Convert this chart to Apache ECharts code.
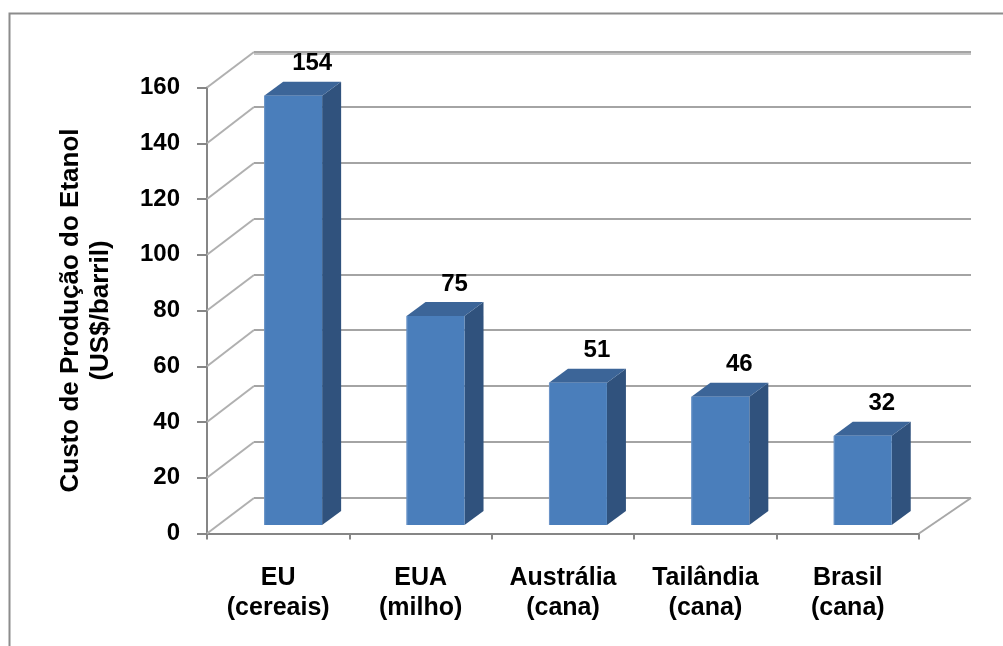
<!DOCTYPE html>
<html>
<head>
<meta charset="utf-8">
<script src="https://cdn.jsdelivr.net/npm/echarts@6/dist/echarts.min.js"></script>
<style>
  html, body { margin: 0; padding: 0; background: #fff; overflow: hidden; }
  #chart { width: 1003px; height: 646px; }
</style>
</head>
<body>
<div id="chart"></div>
<script>
// Ethanol production cost by producer (US$ per barrel)
const categories = ['EU\n(cereais)', 'EUA\n(milho)', 'Austrália\n(cana)', 'Tailândia\n(cana)', 'Brasil\n(cana)'];
const costs = [154, 75, 51, 46, 32];
const yTicks = [0, 20, 40, 60, 80, 100, 120, 140, 160];
const yTitle = 'Custo de Produção do Etanol\n(US$/barril)';

const FONT = '"Liberation Sans", Arial, sans-serif';

// Oblique 3D look: how far the back wall sits from the front plane
const WALL_DX_LEFT = 47, WALL_DX_RIGHT = 52, WALL_DY = -36;
// Bar box within each category band
const BAR_W = 0.407, BAR_SHIFT = 0.105, BAR_LIFT = 8.5, BAR_DX = 19, BAR_DY = -14;

const chart = echarts.init(document.getElementById('chart'));

function renderWall(params, api) {
  const cs = params.coordSys;
  const v = api.value(0);
  const y = api.coord([0, v])[1];
  const left = cs.x, right = cs.x + cs.width;
  const bx0 = left + WALL_DX_LEFT, bx1 = right + WALL_DX_RIGHT;
  const by = Math.round(y + WALL_DY);
  const children = [
    { type: 'line', shape: { x1: left, y1: y, x2: bx0, y2: by },
      style: { stroke: '#b0b0b0', lineWidth: 2 } },
    { type: 'line', shape: { x1: bx0, y1: by, x2: bx1, y2: by },
      style: { stroke: '#a4a4a4', lineWidth: 2 } }
  ];
  if (v === yTicks[yTicks.length - 1]) {
    children.push({ type: 'line', shape: { x1: bx0, y1: by + 2, x2: bx1, y2: by + 2 },
      style: { stroke: '#c4c4c4', lineWidth: 2 } });
  }
  if (v === 0) {
    children.push({ type: 'line', shape: { x1: right, y1: y, x2: bx1, y2: by },
      style: { stroke: '#a8a8a8', lineWidth: 2 } });
  }
  return { type: 'group', children };
}

function renderBar(params, api) {
  const i = api.value(0), v = api.value(1);
  const band = api.size([1, 0])[0];
  const cx = api.coord([i, 0])[0];
  const base = api.coord([i, 0])[1] - BAR_LIFT;
  const top = api.coord([i, v])[1] - BAR_LIFT;
  const w = band * BAR_W;
  const x0 = cx + band * BAR_SHIFT - w / 2, x1 = x0 + w;
  return {
    type: 'group',
    children: [
      { type: 'polygon', shape: { points: [[x1, top], [x1 + BAR_DX, top + BAR_DY], [x1 + BAR_DX, base + BAR_DY], [x1, base]] },
        style: { fill: '#30527d' } },
      { type: 'polygon', shape: { points: [[x0, top], [x1, top], [x1 + BAR_DX, top + BAR_DY], [x0 + BAR_DX, top + BAR_DY]] },
        style: { fill: '#3c6598' } },
      { type: 'rect', shape: { x: x0, y: top, width: w, height: base - top },
        style: { fill: '#4a7ebb' } },
      { type: 'line', shape: { x1: x0 + 0.5, y1: top, x2: x0 + 0.5, y2: base },
        style: { stroke: '#6d96c9', lineWidth: 1 } },
      { type: 'text', x: cx + band * BAR_SHIFT + 19, y: top + BAR_DY - 18,
        style: { text: String(v), font: 'bold 24px ' + FONT, fill: '#000', align: 'center', verticalAlign: 'middle' } }
    ]
  };
}

chart.setOption({
  animation: false,
  backgroundColor: '#fff',
  graphic: [{
    type: 'rect', shape: { x: 9.5, y: 13.5, width: 1200, height: 800 },
    style: { fill: 'none', stroke: '#8c8c8c', lineWidth: 2 }, silent: true
  }],
  grid: { left: 207, right: 84, top: 87.5, bottom: 112.5 },
  xAxis: {
    type: 'category',
    data: categories,
    boundaryGap: true,
    axisLine: { lineStyle: { color: '#868686', width: 2 } },
    axisTick: { show: true, length: 6, lineStyle: { color: '#868686', width: 2 } },
    axisLabel: { color: '#000', fontFamily: FONT, fontWeight: 'bold', fontSize: 25, lineHeight: 30, margin: 30 }
  },
  yAxis: {
    type: 'value',
    min: 0, max: 160, interval: 20,
    name: yTitle,
    nameLocation: 'middle',
    nameRotate: 90,
    nameGap: 91,
    nameTextStyle: { color: '#000', fontFamily: FONT, fontWeight: 'bold', fontSize: 26, lineHeight: 30 },
    axisLine: { show: true, lineStyle: { color: '#868686', width: 2 } },
    axisTick: { show: true, length: 10, lineStyle: { color: '#868686', width: 2 } },
    axisLabel: { color: '#000', fontFamily: FONT, fontWeight: 'bold', fontSize: 24, margin: 27 },
    splitLine: { show: false }
  },
  series: [
    { type: 'custom', renderItem: renderWall, data: yTicks.map(t => [t]), z: 1, silent: true },
    { type: 'custom', renderItem: renderBar, data: costs.map((c, i) => [i, c]), z: 2 }
  ]
});
</script>
</body>
</html>
